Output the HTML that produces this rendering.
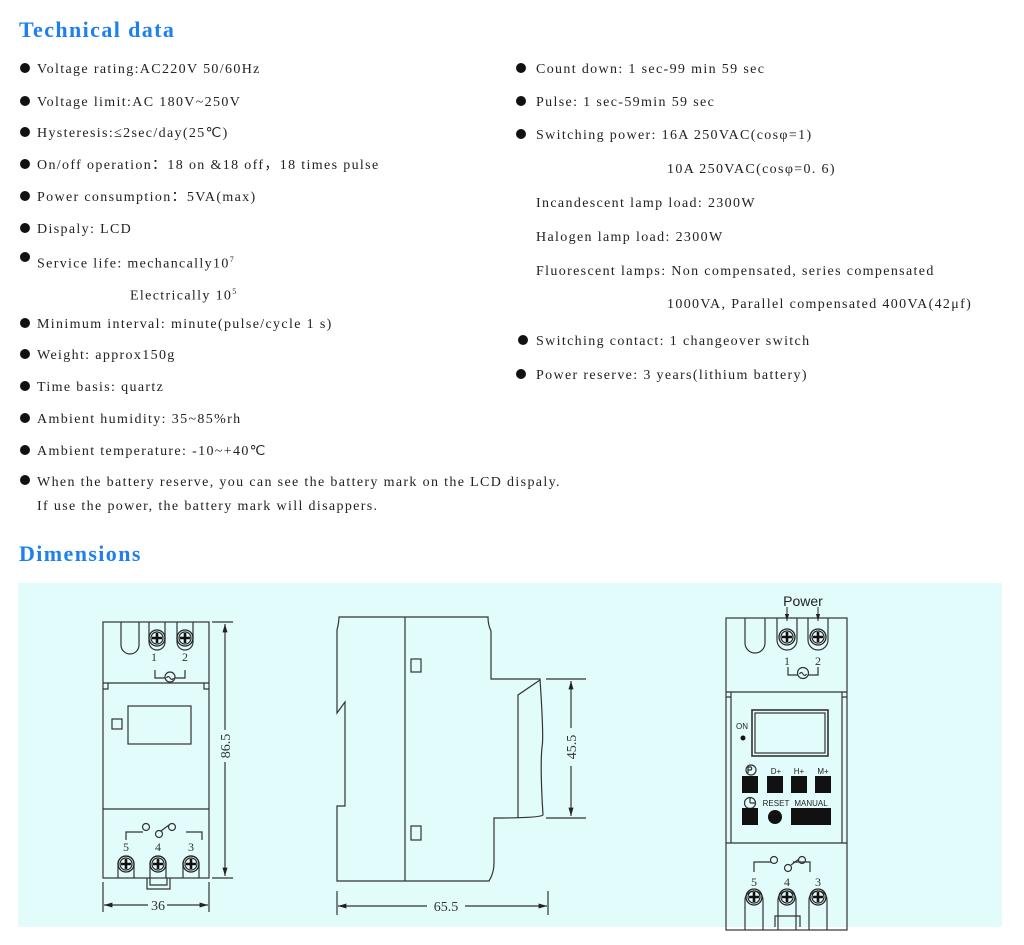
<!DOCTYPE html>
<html><head><meta charset="utf-8"><style>
body{margin:0;width:1024px;height:945px;background:#fff;position:relative;overflow:hidden;font-family:"Liberation Serif",serif;color:#222}
.h{position:absolute;color:#1e80f0;font-weight:bold;font-size:22px;letter-spacing:1.4px}
.t{position:absolute;font-size:14px;letter-spacing:1.35px;white-space:nowrap;line-height:16px}
.b{position:absolute;width:10px;height:10px;border-radius:50%;background:#111}
sup{font-size:8px}
</style></head><body>
<div class="h" style="left:19px;top:17px">Technical data</div>
<div class="h" style="left:19px;top:541px">Dimensions</div>

<div class="b" style="left:20px;top:63px"></div><div class="t" style="left:37px;top:62px">Voltage rating:AC220V 50/60Hz</div>
<div class="b" style="left:20px;top:96px"></div><div class="t" style="left:37px;top:95px">Voltage limit:AC 180V~250V</div>
<div class="b" style="left:20px;top:127px"></div><div class="t" style="left:37px;top:126px">Hysteresis:≤2sec/day(25℃)</div>
<div class="b" style="left:20px;top:159px"></div><div class="t" style="left:37px;top:158px">On/off operation：18 on &amp;18 off，18 times pulse</div>
<div class="b" style="left:20px;top:191px"></div><div class="t" style="left:37px;top:190px">Power consumption：5VA(max)</div>
<div class="b" style="left:20px;top:223px"></div><div class="t" style="left:37px;top:222px">Dispaly: LCD</div>
<div class="b" style="left:20px;top:252px"></div><div class="t" style="left:37px;top:252px">Service life: mechancally10<sup>7</sup></div>
<div class="t" style="left:130px;top:284px">Electrically 10<sup>5</sup></div>
<div class="b" style="left:20px;top:318px"></div><div class="t" style="left:37px;top:317px">Minimum interval: minute(pulse/cycle 1 s)</div>
<div class="b" style="left:20px;top:349px"></div><div class="t" style="left:37px;top:348px">Weight: approx150g</div>
<div class="b" style="left:20px;top:381px"></div><div class="t" style="left:37px;top:380px">Time basis: quartz</div>
<div class="b" style="left:20px;top:413px"></div><div class="t" style="left:37px;top:412px">Ambient humidity: 35~85%rh</div>
<div class="b" style="left:20px;top:445px"></div><div class="t" style="left:37px;top:444px">Ambient temperature: -10~+40℃</div>
<div class="b" style="left:20px;top:475px"></div><div class="t" style="left:37px;top:475px">When the battery reserve, you can see the battery mark on the LCD dispaly.</div>
<div class="t" style="left:37px;top:499px">If use the power, the battery mark will disappers.</div>

<div class="b" style="left:516px;top:63px"></div><div class="t" style="left:536px;top:62px">Count down: 1 sec-99 min 59 sec</div>
<div class="b" style="left:516px;top:96px"></div><div class="t" style="left:536px;top:95px">Pulse: 1 sec-59min 59 sec</div>
<div class="b" style="left:516px;top:129px"></div><div class="t" style="left:536px;top:128px">Switching power: 16A 250VAC(cosφ=1)</div>
<div class="t" style="left:667px;top:162px">10A 250VAC(cosφ=0. 6)</div>
<div class="t" style="left:536px;top:196px">Incandescent lamp load: 2300W</div>
<div class="t" style="left:536px;top:230px">Halogen lamp load: 2300W</div>
<div class="t" style="left:536px;top:264px">Fluorescent lamps: Non compensated, series compensated</div>
<div class="t" style="left:667px;top:297px">1000VA, Parallel compensated 400VA(42μf)</div>
<div class="b" style="left:518px;top:335px"></div><div class="t" style="left:536px;top:334px">Switching contact: 1 changeover switch</div>
<div class="b" style="left:516px;top:369px"></div><div class="t" style="left:536px;top:368px">Power reserve: 3 years(lithium battery)</div>

<svg style="position:absolute;left:0;top:0" width="1024" height="945">
<defs>
<g id="sc"><circle r="8" fill="none" stroke="#222" stroke-width="1.3"/><circle r="6" fill="none" stroke="#222" stroke-width="1.2"/><path d="M-5 0H5M0 -5V5" stroke="#111" stroke-width="2.6"/></g>
<marker id="a" viewBox="0 0 10 10" refX="10" refY="5" markerWidth="7" markerHeight="7" orient="auto-start-reverse"><path d="M0 2L10 5L0 8z" fill="#222"/></marker>
</defs>
<rect x="18" y="583" width="984" height="344" fill="#e2fcfc"/>
<g fill="none" stroke="#333" stroke-width="1.2">
<rect x="103" y="622" width="106" height="256"/>
<line x1="103" y1="683" x2="209" y2="683"/><line x1="103" y1="809" x2="209" y2="809"/>
<path d="M103 689h5v-6M209 689h-5v-6"/>
<path d="M121 622v23a9 9 0 0 0 18 0v-23M149 622v20a8 8 0 0 0 16 0v-20M177 622v20a8 8 0 0 0 16 0v-20"/>
<rect x="128" y="706" width="63" height="38"/><rect x="112" y="719" width="10" height="10"/>
<path d="M155 670v8h10M175 678h10v-8"/><circle cx="170" cy="677" r="5"/>
<path d="M166.5 678q1.7 -3 3.5 0t3.5 0"/>
<path d="M126 840v-8h17M186 832h16v8"/><circle cx="146" cy="827" r="3.5"/><circle cx="159" cy="834" r="3.5"/><circle cx="172" cy="827" r="3.5"/><line x1="161" y1="831" x2="169" y2="825"/>
<path d="M118 878v-14a8 8 0 0 1 16 0v14M150 878v-14a8 8 0 0 1 16 0v14M183 878v-14a8 8 0 0 1 16 0v14"/>
<path d="M147 878v11h23v-11M150 878v7h17v-7"/>
<path d="M212 622h21M212 878h21"/>
<line x1="225" y1="624" x2="225" y2="730" marker-start="url(#a)"/><line x1="225" y1="762" x2="225" y2="876" marker-end="url(#a)"/>
<path d="M103 882v30M209 882v30"/>
<line x1="104" y1="905" x2="148" y2="905" marker-start="url(#a)"/><line x1="167" y1="905" x2="208" y2="905" marker-end="url(#a)"/>
<path d="M339 617H488q0 8 3 14v48h49q4 60 2 68q-2 20 1 68q-3 3 -49 3v45q0 10 -5 18H337V806h8V702l-8 11V630q2 -8 2 -13z"/>
<line x1="405" y1="617" x2="405" y2="881"/>
<path d="M540 680l-22 15v123"/>
<rect x="411" y="659" width="10" height="13"/><rect x="411" y="826" width="10" height="14"/>
<path d="M546 679h40M546 818h40"/>
<line x1="571" y1="681" x2="571" y2="728" marker-start="url(#a)"/><line x1="571" y1="766" x2="571" y2="816" marker-end="url(#a)"/>
<path d="M337 891v24M548 891v24"/>
<line x1="338" y1="906" x2="427" y2="906" marker-start="url(#a)"/><line x1="465" y1="906" x2="547" y2="906" marker-end="url(#a)"/>
<rect x="726" y="618" width="121" height="312"/>
<line x1="726" y1="692" x2="847" y2="692"/><line x1="726" y1="843" x2="847" y2="843"/>
<path d="M726 697h5v-5M731 697v12M847 697h-5v-5M842 697v12M731 692v151M842 692v151"/>
<path d="M745 618v25a10 10 0 0 0 20 0v-25M777 618v22a10 10 0 0 0 20 0v-22M808 618v22a10 10 0 0 0 20 0v-22"/>
<rect x="752" y="710" width="76" height="46" stroke-width="1.6"/><rect x="755" y="713" width="70" height="40"/>
<path d="M788 667v8h10M808 675h10v-8"/><circle cx="803" cy="673" r="5.5"/>
<path d="M799.5 674q1.7 -3 3.5 0t3.5 0"/>
<path d="M754 872v-10h17M793 862h17v10"/><circle cx="774" cy="860" r="3.5"/><circle cx="788" cy="868" r="3.5"/><circle cx="802" cy="860" r="3.5"/><line x1="791" y1="865" x2="799" y2="859"/>
<path d="M745 930v-30a9 9 0 0 1 18 0v30M778 930v-30a9 9 0 0 1 18 0v30M809 930v-30a9 9 0 0 1 18 0v30"/>
<path d="M775 927v-11h25v11"/>
<circle cx="751" cy="770" r="5"/><path d="M748 773v-6h3a2 2 0 0 1 0 3h-3"/>
<circle cx="750" cy="803" r="5.5"/><path d="M750 803v-5.5M750 803h5.5"/>
</g>
<line x1="787" y1="607" x2="787" y2="621" stroke="#222" marker-end="url(#a)"/><line x1="818" y1="607" x2="818" y2="621" stroke="#222" marker-end="url(#a)"/>
<use href="#sc" x="157" y="638"/><use href="#sc" x="185" y="638"/>
<use href="#sc" x="126" y="864"/><use href="#sc" x="158" y="864"/><use href="#sc" x="191" y="864"/>
<use href="#sc" x="787" y="637"/><use href="#sc" x="818" y="637"/>
<use href="#sc" x="754" y="897"/><use href="#sc" x="787" y="897"/><use href="#sc" x="818" y="897"/>
<g fill="#111">
<rect x="742" y="776" width="16" height="17"/><rect x="767" y="776" width="16" height="17"/><rect x="791" y="776" width="16" height="17"/><rect x="815" y="776" width="16" height="17"/>
<rect x="742" y="808" width="16" height="17"/><circle cx="775" cy="817" r="7"/><rect x="791" y="808" width="40" height="17"/>
<circle cx="743" cy="738" r="2.5"/>
</g>
<g font-family="Liberation Serif,serif" font-size="12" fill="#333" text-anchor="middle">
<text x="154" y="661">1</text><text x="185" y="661">2</text>
<text x="126" y="851">5</text><text x="158" y="851">4</text><text x="191" y="851">3</text>
<text x="787" y="665">1</text><text x="818" y="665">2</text>
<text x="754" y="886">5</text><text x="787" y="886">4</text><text x="818" y="886">3</text>
<text x="158" y="910" font-size="14">36</text><text x="446" y="911" font-size="14">65.5</text>
<text transform="translate(230,746) rotate(-90)" font-size="14">86.5</text>
<text transform="translate(576,747) rotate(-90)" font-size="14">45.5</text>
</g>
<g font-family="Liberation Sans,sans-serif" fill="#222" text-anchor="middle">
<text x="803" y="606" font-size="14">Power</text>
<text x="742" y="729" font-size="8">ON</text>
<text x="776" y="774" font-size="8">D+</text><text x="799" y="774" font-size="8">H+</text><text x="823" y="774" font-size="8">M+</text>
<text x="776" y="806" font-size="8">RESET</text><text x="811" y="806" font-size="8">MANUAL</text>
</g>
</svg>
</body></html>
